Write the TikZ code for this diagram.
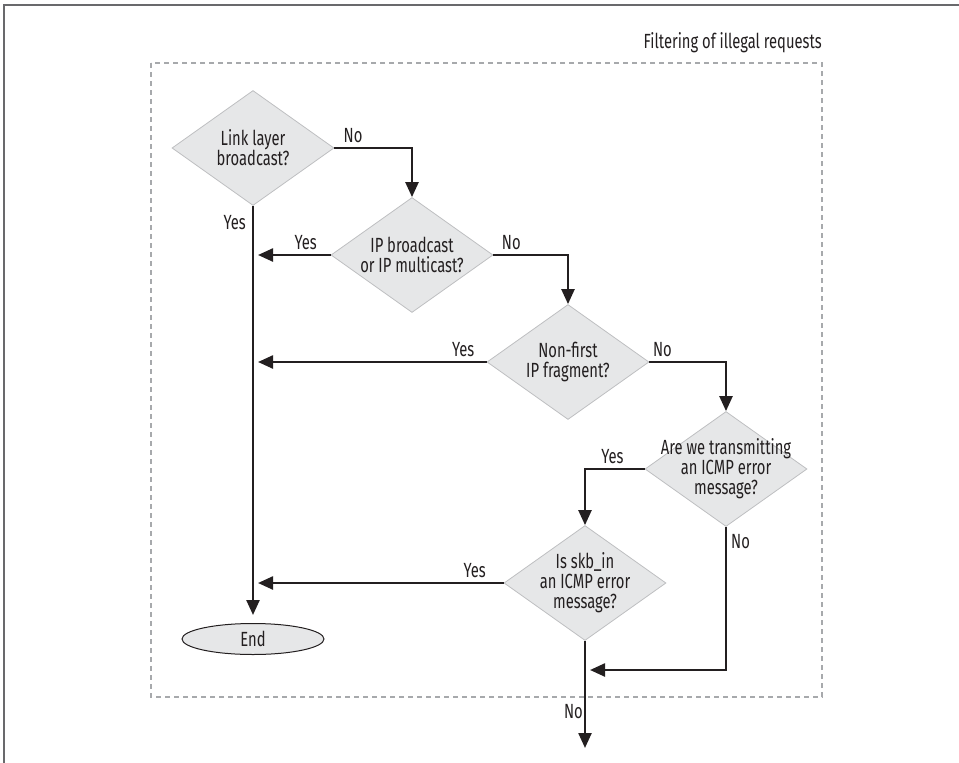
\documentclass[tikz,border=0pt]{standalone}
\usepackage{fontspec}
\setmainfont{Fira Sans}[FakeStretch=0.72]
\usetikzlibrary{arrows.meta,positioning,shapes.geometric}
\definecolor{inkblack}{RGB}{35,31,32}
\definecolor{boxgray}{RGB}{230,231,232}
\definecolor{edgegray}{RGB}{190,191,193}
\definecolor{dashgray}{RGB}{167,169,172}
\definecolor{framegray}{RGB}{105,105,108}

\begin{document}
\begin{tikzpicture}[
    x=1pt, y=-1pt,
    font=\fontsize{20.5}{20}\selectfont,
    text=inkblack,
    decision/.style={diamond, draw=edgegray, fill=boxgray, line width=0.8pt, inner sep=0pt, minimum width=162pt, minimum height=115pt},
    terminal/.style={ellipse, draw=inkblack, fill=boxgray, line width=1pt, inner sep=0pt, minimum width=142pt, minimum height=31pt},
    answer/.style={inner sep=2pt},
    arrow/.style={draw=inkblack, line width=2.4pt, -{Triangle[length=15pt,width=13pt]}}
  ]
    \useasboundingbox (0,0) rectangle (959,763);
    \draw[framegray, line width=2pt] (4,763) -- (4,5) -- (959,5);

    % the filter region
    \draw[dashgray, line width=2pt, dash pattern=on 5pt off 4pt] (151,63) rectangle (822,697);
    \node[anchor=east, inner sep=0pt] (title) at (822,43) {Filtering of illegal requests};

    \node[decision, label={[align=center]center:Link layer\\broadcast?}] (link) at (253,148) {};
    \node[decision, label={[align=center]center:IP broadcast\\or IP multicast?}] (bcast) at (412,255) {};
    \node[decision, label={[align=center]center:Non-first\\IP fragment?}] (frag) at (568,362) {};
    \node[decision, label={[align=center]center:Are we transmitting\\an ICMP error\\message?}] (icmpout) at (726,469) {};
    \node[decision, label={[align=center]center:Is skb\_in\\an ICMP error\\message?}] (icmpin) at (585,583) {};
    \node[terminal] (finish) at (253,639) {End};
    \coordinate (merge) at (585,670);
    \coordinate (exit) at (585,748);

    \draw[arrow] (link.east) -| node[answer, pos=0.12, above=2pt] {No} (bcast.north);
    \draw[arrow, shorten >=8pt] (link.south) -- node[answer, pos=0.04, left=4pt] {Yes} (finish.north);
    \draw[arrow, shorten >=5pt] (bcast.west) -- node[answer, pos=0.32, above=2pt] {Yes} (bcast.west -| link.south);
    \draw[arrow] (bcast.east) -| node[answer, pos=0.12, above=2pt] {No} (frag.north);
    \draw[arrow, shorten >=5pt] (frag.west) -- node[answer, pos=0.1, above=2pt] {Yes} (frag.west -| link.south);
    \draw[arrow] (frag.east) -| node[answer, pos=0.085, above=2pt] {No} (icmpout.north);
    \draw[arrow] (icmpout.west) -| node[answer, pos=0.27, above=2pt] {Yes} (icmpin.north);
    \draw[arrow, shorten >=5pt] (icmpout.south) |- node[answer, pos=0.05, right=2pt] {No} (merge);
    \draw[arrow, shorten >=5pt] (icmpin.west) -- node[answer, pos=0.115, above=2pt] {Yes} (icmpin.west -| link.south);
    \draw[arrow] (icmpin.south) -- node[answer, pos=0.66, left=0pt, inner sep=1pt] {No} (exit);
  \end{tikzpicture}
\end{document}
